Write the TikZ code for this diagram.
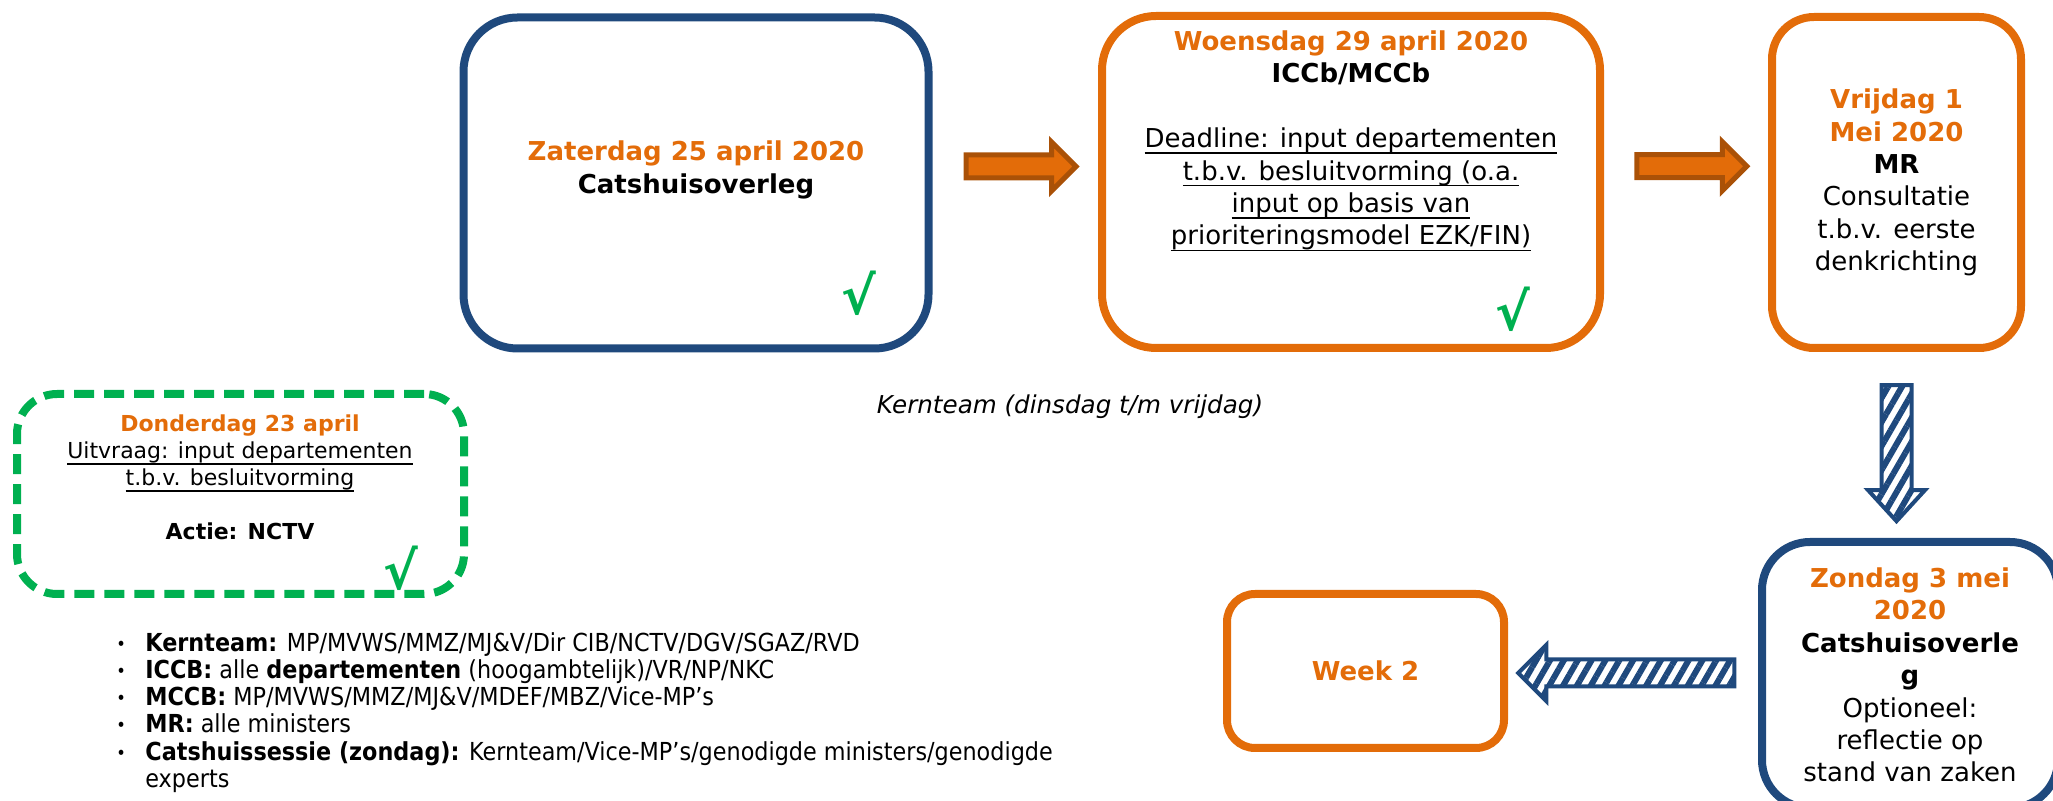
\documentclass[tikz,border=0pt]{standalone}
\usepackage{fontspec}
\setmainfont{DejaVu Sans}
\newfontfamily\smalfont[FakeStretch=0.9]{DejaVu Sans}
\usetikzlibrary{positioning}
\usetikzlibrary{calc}
\usetikzlibrary{shapes.arrows}
\usetikzlibrary{patterns.meta}
\definecolor{oranje}{HTML}{E36C09}
\definecolor{bruin}{HTML}{AA5107}
\definecolor{donkerblauw}{HTML}{1F497D}
\definecolor{groen}{HTML}{00B050}
\newcommand{\datum}[1]{\textcolor{oranje}{\textbf{#1}}}
\newcommand{\ond}[1]{\setbox0\hbox{#1}\rlap{\rule[-3.2pt]{\wd0}{0.8pt}}\box0}
\newcommand{\lid}{\makebox[14.5pt][l]{\raisebox{0.5pt}{\fontsize{9pt}{9pt}\selectfont •}}}
\tikzset{
	every node/.style={align=center, inner sep=0pt},
	tekst/.style={font=\fontsize{13pt}{16.2pt}\selectfont},
	klein/.style={font=\fontsize{11pt}{13.5pt}\selectfont},
	kader/.style={draw, line width=4pt, tekst},
	blauwkader/.style={kader, draw=donkerblauw},
	oranjekader/.style={kader, draw=oranje},
	groenkader/.style={kader, draw=groen, dash pattern=on 10pt off 5pt},
	vinkje/.style={text=groen, font=\fontsize{26pt}{26pt}\selectfont\bfseries},
	pijl/.style={single arrow, draw=bruin, fill=oranje, line width=2.5pt, inner sep=4.5pt, minimum height=55pt, minimum width=22pt, single arrow head extend=6.5pt, single arrow tip angle=90},
	streeppijl/.style={single arrow, draw=donkerblauw, line width=2pt, pattern={Lines[angle=60, distance=6pt, line width=3pt]}, pattern color=donkerblauw}
}

\begin{document}
\begin{tikzpicture}[x=0.5pt, y=-0.5pt]
\useasboundingbox (0,0) rectangle (2053,801);

% blokken bovenaan
\node (zat) [blauwkader, minimum width=232.5pt, minimum height=165.5pt, rounded corners=27pt] at (696,183) {};
\node (zattekst) [tekst] at (696,170) {\datum{Zaterdag 25 april 2020}\\\textbf{Catshuisoverleg}};
\node (zatok) [vinkje] at (859,293) {√};

\node (woe) [oranjekader, minimum width=249pt, minimum height=166pt, rounded corners=27pt] at (1351,182) {};
\node (woetekst) [tekst] at (1351,141) {\datum{Woensdag 29 april 2020}\\\textbf{ICCb/MCCb}\\[16.2pt]
	\ond{Deadline: input departementen}\\\ond{t.b.v. besluitvorming (o.a.}\\
	\ond{input op basis van}\\\ond{prioriteringsmodel EZK/FIN)}};
\node (woeok) [vinkje] at (1513,309) {√};

\node (vrij) [oranjekader, minimum width=124.5pt, minimum height=165.5pt, rounded corners=21pt] at (1896.5,182.5)
	{\datum{Vrijdag 1}\\\datum{Mei 2020}\\\textbf{MR}\\Consultatie\\t.b.v. eerste\\denkrichting};

% blokken onderaan
\node (zon) [blauwkader, minimum width=148pt, minimum height=133pt, rounded corners=24pt] at (1910,675)
	{\datum{Zondag 3 mei}\\\datum{2020}\\\textbf{Catshuisoverle}\\\textbf{g}\\Optioneel:\\reflectie op\\stand van zaken};
\node (week) [oranjekader, minimum width=138.5pt, minimum height=77pt, rounded corners=14pt] at (1365.5,671) {\datum{Week 2}};

\node (don) [groenkader, minimum width=223.5pt, minimum height=100pt, rounded corners=20pt] at (240.5,494) {};
\node (dontekst) [klein] at (240,477) {\datum{Donderdag 23 april}\\\ond{Uitvraag: input departementen}\\
	\ond{t.b.v. besluitvorming}\\[13.5pt]\textbf{Actie: NCTV}};
\node (donok) [vinkje] at (401,568) {√};

\node (kern) [font=\fontsize{12.3pt}{14pt}\selectfont\itshape] at (1070,407) {Kernteam (dinsdag t/m vrijdag)};

\node (leden) [font=\fontsize{12.4pt}{13.6pt}\smalfont, align=left, anchor=north west] at (116,632) {%
	\lid\textbf{Kernteam:} MP/MVWS/MMZ/MJ\&V/Dir CIB/NCTV/DGV/SGAZ/RVD\\
	\lid\textbf{ICCB:} alle \textbf{departementen} (hoogambtelijk)/VR/NP/NKC\\
	\lid\textbf{MCCB:} MP/MVWS/MMZ/MJ\&V/MDEF/MBZ/Vice-MP’s\\
	\lid\textbf{MR:} alle ministers\\
	\lid\textbf{Catshuissessie (zondag):} Kernteam/Vice-MP’s/genodigde ministers/genodigde\\
	\hspace*{14.5pt}experts};

% pijlen
\path ([yshift=8pt]zat.east) -- ([yshift=8pt]woe.west) node [midway, pijl] {};
\path ([yshift=8pt]woe.east) -- ([yshift=8pt]vrij.west) node [midway, pijl] {};
\path (vrij.south) -- (vrij.south |- zon.north) node [midway, streeppijl, shape border rotate=270, inner sep=6pt, minimum height=68pt, single arrow head extend=6.75pt, single arrow tip angle=85] {};
\path (zon.west) -- (week.east) node [midway, streeppijl, shape border rotate=180, inner sep=5.75pt, minimum height=108pt, single arrow head extend=7.25pt, single arrow tip angle=90] {};

\end{tikzpicture}
\end{document}
